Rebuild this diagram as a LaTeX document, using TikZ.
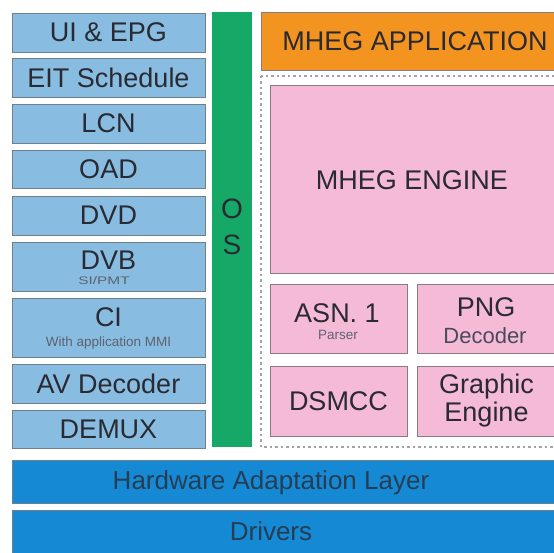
\documentclass[tikz,border=0pt]{standalone}
\usepackage{fontspec}
\setmainfont{Liberation Sans}
\definecolor{lblue}{HTML}{88BDE1}
\definecolor{lline}{HTML}{6F7F8C}
\definecolor{osgreen}{HTML}{16A866}
\definecolor{orng}{HTML}{F49420}
\definecolor{pnk}{HTML}{F5BAD6}
\definecolor{pline}{HTML}{8A7A84}
\definecolor{dblue}{HTML}{1689D5}
\definecolor{txt}{HTML}{2A2A33}
\definecolor{subtxt}{HTML}{5E6270}
\definecolor{dashgrey}{HTML}{A0A4A8}
\begin{document}
\begin{tikzpicture}[x=1pt,y=-1pt,
  big/.style={font=\fontsize{27}{28}\selectfont, text=txt, inner sep=0pt, align=center},
  small/.style={font=\fontsize{13.5}{14}\selectfont, text=subtxt, inner sep=0pt},
  lbox/.style={draw=lline, line width=0.9pt, fill=lblue},
  pbox/.style={draw=pline, line width=0.9pt, fill=pnk},
  bbox/.style={draw=lline, line width=0.9pt, fill=dblue}]
\useasboundingbox (0,0) rectangle (554,553);
\clip (0,0) rectangle (554,553);
\fill[white] (0,0) rectangle (554,553);
% left column
\draw[lbox] (12,13) rectangle (205,52);  \node[big] (ui) at (108.5,32.5) {UI \& EPG};
\draw[lbox] (12,58) rectangle (205,97);  \node[big] (eit) at (108.5,77.5) {EIT Schedule};
\draw[lbox] (12,104) rectangle (205,143); \node[big] (lcn) at (108.5,123.5) {LCN};
\draw[lbox] (12,150) rectangle (205,188); \node[big] (oad) at (108.5,169) {OAD};
\draw[lbox] (12,196) rectangle (205,235); \node[big] (dvd) at (108.5,215.5) {DVD};
\draw[lbox] (12,242) rectangle (205,291); \node[big] (dvb) at (108.5,260) {DVB};
\node[small, font=\fontsize{11}{12}\selectfont, xscale=1.4, transform shape] (dvbs) at (104,281) {SI/PMT};
\draw[lbox] (12,298) rectangle (205,357); \node[big] (ci) at (108.5,317) {CI};
\node[small] (cis) at (108.5,343) {With application MMI};
\draw[lbox] (12,364) rectangle (205,403); \node[big] (av) at (108.5,383.5) {AV Decoder};
\draw[lbox] (12,410) rectangle (205,448); \node[big] (demux) at (108.5,429) {DEMUX};
% OS bar
\fill[osgreen] (212,12) rectangle (252,447);
\node[big, font=\fontsize{28}{30}\selectfont] (o) at (232,209) {O};
\node[big, font=\fontsize{28}{30}\selectfont] (s) at (232,245) {S};
% MHEG application
\draw[draw=pline, line width=0.6pt, fill=orng] (261,12) rectangle (570,70);
\node[big] (app) at (415,41) {MHEG APPLICATION};
% dashed container
\draw[draw=dashgrey, line width=1.4pt, dash pattern=on 2.5pt off 3pt] (261,76) rectangle (570,447);
% engine boxes
\draw[pbox] (270,85) rectangle (556,273); \node[big] (eng) at (412,180) {MHEG ENGINE};
\draw[pbox] (270,284) rectangle (407,353); \node[big] (asn) at (337,313) {ASN. 1};
\node[small] (asns) at (338,335) {Parser};
\draw[pbox] (417,284) rectangle (556,353); \node[big] (png) at (486,307) {PNG};
\node[big, font=\fontsize{22}{23}\selectfont, text=subtxt!60!txt] (pngs) at (485,336) {Decoder};
\draw[pbox] (270,366) rectangle (407,436); \node[big] (dsm) at (338.5,401) {DSMCC};
\draw[pbox] (417,366) rectangle (556,436); \node[big] (gfx) at (486.5,401) {Graphic\\Engine};
% bottom layers
\draw[bbox] (12,460) rectangle (560,503); \node[big, font=\fontsize{26}{27}\selectfont, text=txt!80!dblue] (hal) at (271,483) {Hardware Adaptation Layer};
\draw[bbox] (12,510) rectangle (560,560); \node[big, font=\fontsize{26}{27}\selectfont, text=txt!80!dblue] (drv) at (271,531) {Drivers};
\end{tikzpicture}
\end{document}
